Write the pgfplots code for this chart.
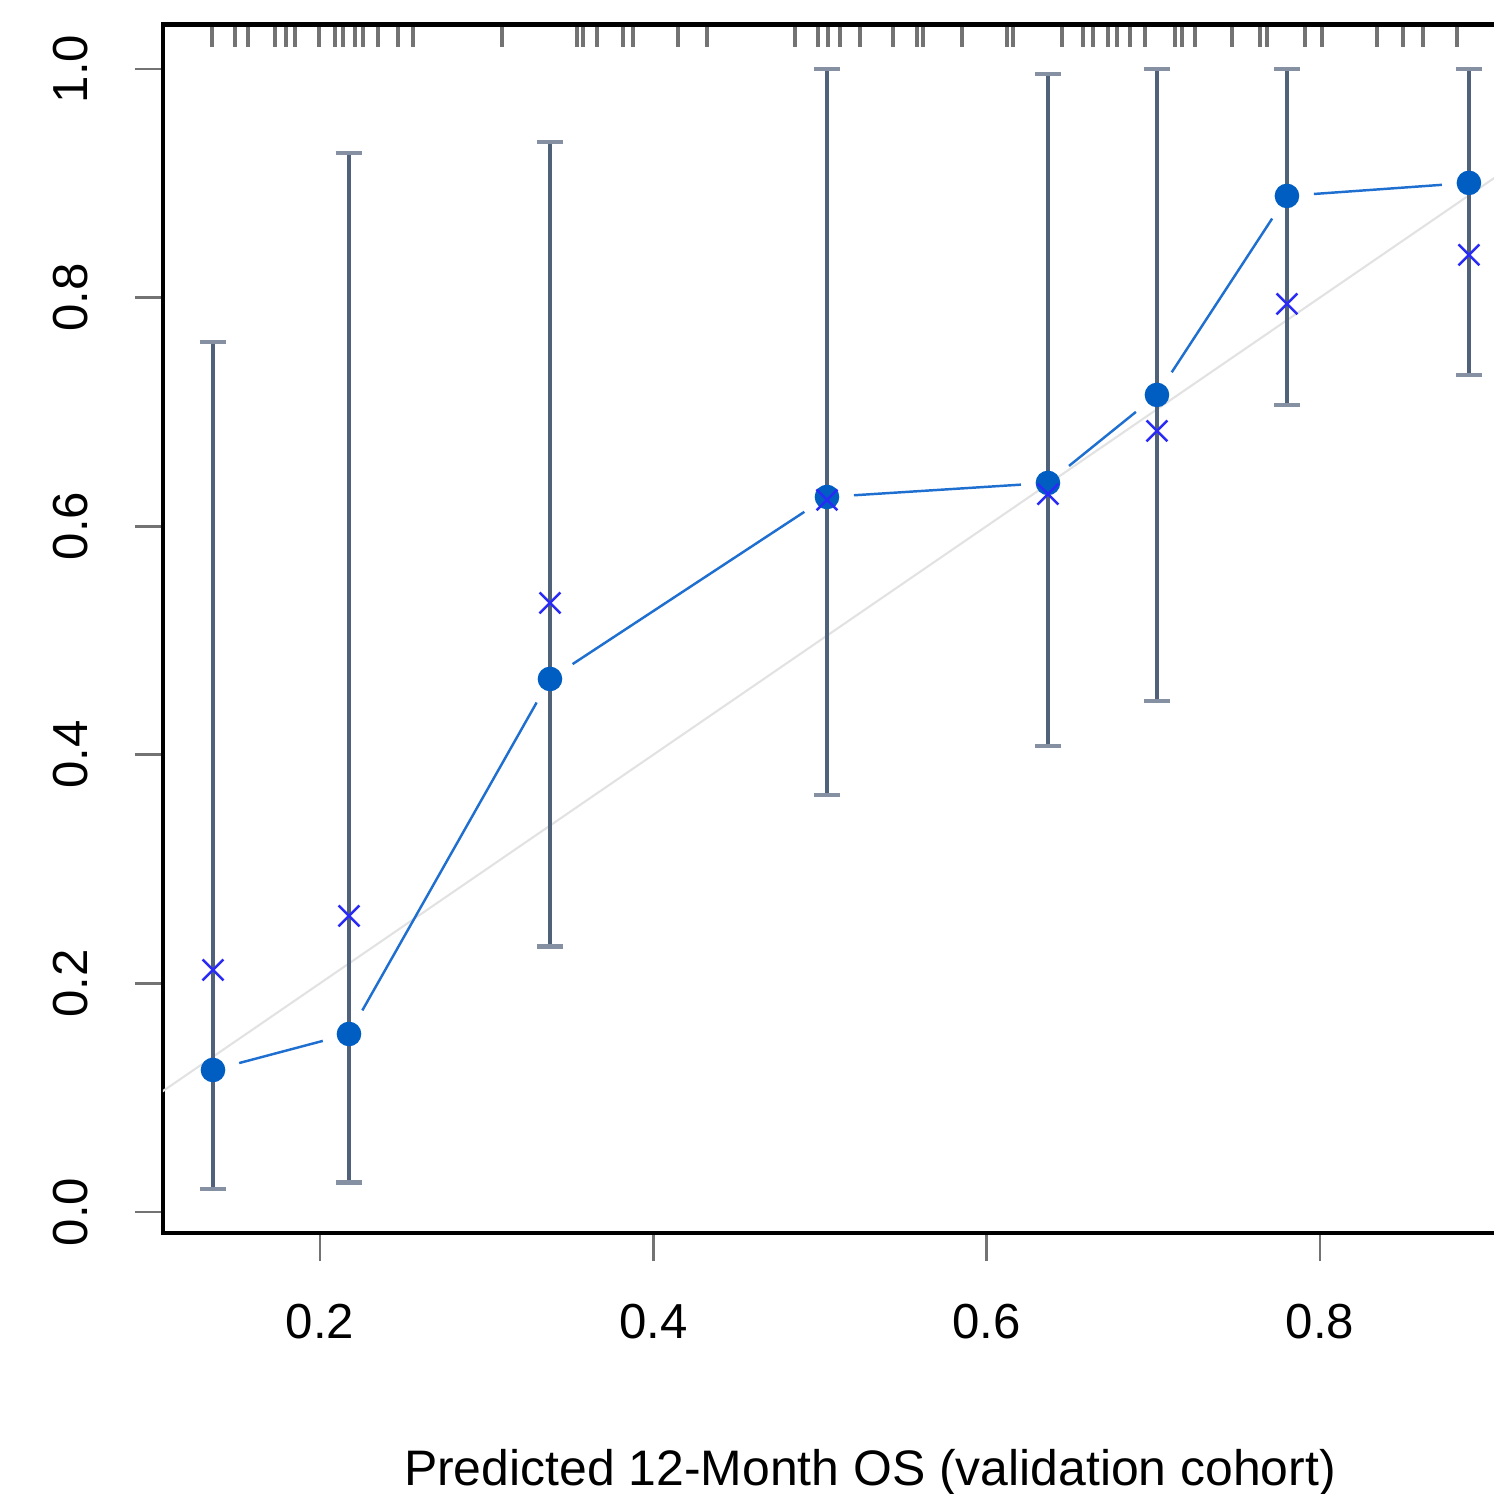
\documentclass[border=0pt]{standalone}
\usepackage{fontspec}
\setmainfont{Liberation Sans}
\usepackage{pgfplots}
\pgfplotsset{compat=1.18}
\usetikzlibrary{calc}

\definecolor{dotblue}{HTML}{005EC2}
\definecolor{lineblue}{HTML}{1F6FD1}
\definecolor{crossblue}{HTML}{2A2AF5}
\definecolor{barslate}{HTML}{50627A}
\definecolor{diaggray}{HTML}{E2E2E2}

% observed proportion with interval: x, y, up, down
\pgfplotstableread{
x      y      ep     em
0.1358 0.1242 0.6370 0.1040
0.2174 0.1557 0.7710 0.1300
0.3380 0.4663 0.4700 0.2340
0.5042 0.6255 0.3745 0.2610
0.6368 0.6378 0.3578 0.2300
0.7022 0.7148 0.2852 0.2680
0.7802 0.8889 0.1111 0.1830
0.8894 0.9003 0.0997 0.1680
}\calib

% bias-corrected estimates
\pgfplotstableread{
x      y
0.1358 0.2117
0.2174 0.2590
0.3380 0.5328
0.5042 0.6230
0.6368 0.6280
0.7022 0.6833
0.7802 0.7944
0.8894 0.8373
}\corrected

\begin{document}
\begin{tikzpicture}
\begin{axis}[
    name=ax,
    scale only axis,
    width=402.4pt, height=343.8pt,
    xmin=0.1058, xmax=0.9542,
    ymin=-0.0184, ymax=1.0385,
    xtick={0.2,0.4,0.6,0.8},
    ytick={0,0.2,0.4,0.6,0.8,1.0},
    tick pos=left,
    tick align=outside,
    major tick length=8pt,
    tick style={black!55, line width=0.8pt},
    axis line style={line width=1.4pt},
    /pgf/number format/.cd, fixed, fixed zerofill, precision=1, assume math mode=true,
    /pgfplots/.cd,
    tick label style={font=\fontsize{14}{16}\selectfont, inner sep=0pt},
    xticklabel style={anchor=north, yshift=-12.2pt},
    yticklabel style={rotate=90, anchor=base, yshift=13.4pt},
    xlabel={Predicted 12-Month OS (validation cohort)},
    xlabel style={at={(axis description cs:0.5,0)}, anchor=base, inner sep=0pt,
                  yshift=-72pt, font=\fontsize{14.2}{16}\selectfont},
]
% ideal line
\addplot[diaggray, line width=0.6pt] coordinates {(0,0) (1,1)};

% rug of predictions
\addplot[only marks, mark=|, mark size=3.1pt, draw opacity=0.55,
         mark options={black, line width=0.9pt}]
  coordinates {
  (0.1352,1.0289) (0.1490,1.0289) (0.1568,1.0289) (0.1730,1.0289) (0.1796,1.0289)
  (0.1850,1.0289) (0.1994,1.0289) (0.2090,1.0289) (0.2138,1.0289) (0.2210,1.0289)
  (0.2258,1.0289) (0.2348,1.0289) (0.2468,1.0289) (0.2558,1.0289) (0.3092,1.0289)
  (0.3542,1.0289) (0.3578,1.0289) (0.3662,1.0289) (0.3818,1.0289) (0.3878,1.0289)
  (0.4148,1.0289) (0.4322,1.0289) (0.4850,1.0289) (0.4988,1.0289) (0.5048,1.0289)
  (0.5120,1.0289) (0.5240,1.0289) (0.5438,1.0289) (0.5582,1.0289) (0.5618,1.0289)
  (0.5852,1.0289) (0.6122,1.0289) (0.6158,1.0289) (0.6452,1.0289) (0.6578,1.0289)
  (0.6638,1.0289) (0.6728,1.0289) (0.6782,1.0289) (0.6860,1.0289) (0.6950,1.0289)
  (0.7130,1.0289) (0.7172,1.0289) (0.7250,1.0289) (0.7472,1.0289) (0.7640,1.0289)
  (0.7682,1.0289) (0.7910,1.0289) (0.8012,1.0289) (0.8342,1.0289) (0.8498,1.0289)
  (0.8618,1.0289) (0.8822,1.0289)
  };

% intervals
\addplot[draw=none, mark=none,
         error bars/.cd, y dir=both, y explicit,
         error bar style={barslate, line width=0.9pt},
         error mark options={rotate=90, mark size=3.8pt, barslate!70, line width=1.2pt}]
  table[x=x, y=y, y error plus=ep, y error minus=em] {\calib};

% connecting segments with gaps
\pgfplotsset{seg/.style={lineblue, line width=0.7pt, shorten <=7.7pt, shorten >=7.7pt}}
\addplot[seg] coordinates {(0.1358,0.1242) (0.2174,0.1557)};
\addplot[seg] coordinates {(0.2174,0.1557) (0.3380,0.4663)};
\addplot[seg] coordinates {(0.3380,0.4663) (0.5042,0.6255)};
\addplot[seg] coordinates {(0.5042,0.6255) (0.6368,0.6378)};
\addplot[seg] coordinates {(0.6368,0.6378) (0.7022,0.7148)};
\addplot[seg] coordinates {(0.7022,0.7148) (0.7802,0.8889)};
\addplot[seg] coordinates {(0.7802,0.8889) (0.8894,0.9003)};

% observed
\addplot[dotblue, only marks, mark=*, mark size=3.3pt,
         mark options={draw=dotblue, fill=dotblue}]
  table[x=x, y=y] {\calib};

% bias-corrected
\addplot[crossblue, only marks, mark=x, mark size=4.2pt,
         mark options={crossblue, line width=0.7pt}]
  table[x=x, y=y] {\corrected};

\coordinate (bl) at (rel axis cs:0,0);
\end{axis}
\pgfresetboundingbox
\path[use as bounding box] ($(bl)+(-46.39pt,-74.28pt)$) rectangle ($(bl)+(378.8pt,350.9pt)$);
\end{tikzpicture}
\end{document}
